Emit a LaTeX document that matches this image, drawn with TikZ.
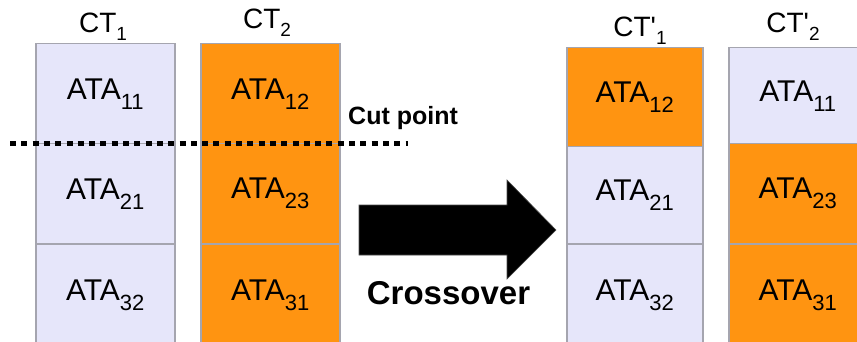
\documentclass[tikz,border=0pt]{standalone}
\usepackage{fontspec}
\setmainfont{Liberation Sans}[Ligatures=TeXOff]
\definecolor{lav}{RGB}{230,230,250}
\definecolor{org}{RGB}{255,148,17}
\definecolor{cellrule}{RGB}{165,165,175}
% lowered indices for cell texts and column titles
\newcommand\ataidx[1]{\raisebox{-10pt}{\fontsize{22}{22}\selectfont #1}}
\newcommand\ctidx[1]{\raisebox{-8pt}{\fontsize{19}{19}\selectfont #1}}
\begin{document}
\begin{tikzpicture}[x=1pt,y=-1pt,
  cell/.style={draw=cellrule, line width=1.5pt, anchor=north west, inner sep=0pt,
               font=\fontsize{30}{30}\selectfont},
  lavcell/.style={cell, fill=lav},
  orgcell/.style={cell, fill=org},
  coltitle/.style={anchor=base, inner sep=0pt, font=\fontsize{28}{28}\selectfont},
  cutline/.style={line width=5pt, dash pattern=on 6pt off 5.3pt},
  bigarrow/.style={fill=black, draw=black!70, line width=0.6pt}]
\fill[white] (0,0) rectangle (857,342);
\useasboundingbox (0,0) rectangle (857,342);
\begin{scope}
\clip (0,0) rectangle (857,342);
% parent CT1
\node[lavcell, minimum width=139pt, minimum height=100pt] (p11) at (35,43) {ATA\ataidx{11}};
\node[lavcell, minimum width=139pt, minimum height=100pt] (p12) at (35,143) {ATA\ataidx{21}};
\node[lavcell, minimum width=139pt, minimum height=104pt] (p13) at (35,243) {ATA\ataidx{32}};
% parent CT2
\node[orgcell, minimum width=139pt, minimum height=100pt] (p21) at (200,43) {ATA\ataidx{12}};
\node[orgcell, minimum width=139pt, minimum height=100pt] (p22) at (200,143) {ATA\ataidx{23}};
\node[orgcell, minimum width=139pt, minimum height=104pt] (p23) at (200,243) {ATA\ataidx{31}};
% child CT'1
\node[orgcell, minimum width=136pt, minimum height=99pt] (c11) at (566,47) {ATA\ataidx{12}};
\node[lavcell, minimum width=136pt, minimum height=97pt] (c12) at (566,146) {ATA\ataidx{21}};
\node[lavcell, minimum width=136pt, minimum height=104pt] (c13) at (566,243) {ATA\ataidx{32}};
% child CT'2
\node[lavcell, minimum width=138pt, minimum height=96pt] (c21) at (728,47) {ATA\ataidx{11}};
\node[orgcell, minimum width=138pt, minimum height=100pt] (c22) at (728,143) {ATA\ataidx{23}};
\node[orgcell, minimum width=138pt, minimum height=104pt] (c23) at (728,243) {ATA\ataidx{31}};
\end{scope}
% column titles
\node[coltitle] (t1) at (103,33) {CT\ctidx{1}};
\node[coltitle] (t2) at (267,29) {CT\ctidx{2}};
\node[coltitle] (t3) at (640,37) {CT'\ctidx{1}};
\node[coltitle] (t4) at (793,33) {CT'\ctidx{2}};
% cut point
\coordinate (cutL) at (10,143.5);
\coordinate (cutR) at (408,143.5);
\draw[cutline] (cutL) -- (cutR);
\node[anchor=base west, inner sep=0pt, font=\bfseries\fontsize{25}{25}\selectfont] (cut) at (348,125) {Cut point};
% crossover arrow
\fill[bigarrow] (359,205) -- (507,205) -- (507,180) -- (556,230) -- (507,279) -- (507,255) -- (359,255) -- cycle;
\node[anchor=base, inner sep=0pt, font=\bfseries\fontsize{33}{33}\selectfont] (cross) at (448.5,304) {Crossover};
\end{tikzpicture}
\end{document}
